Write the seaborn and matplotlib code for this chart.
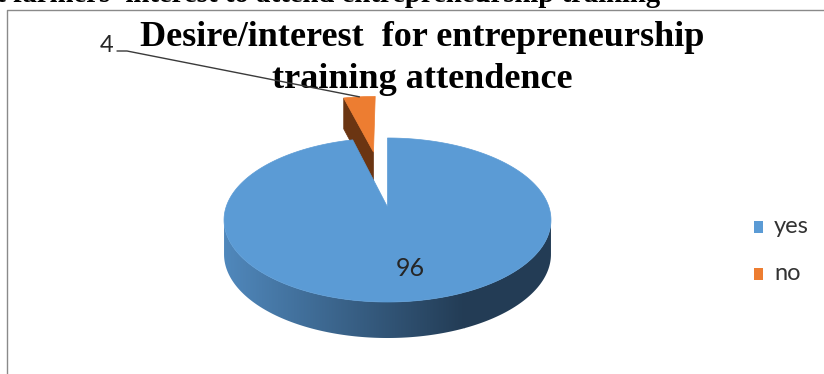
import numpy as np
import matplotlib
matplotlib.use("Agg")
import matplotlib.pyplot as plt
from matplotlib.patches import Polygon, Rectangle
from matplotlib.colors import to_rgb
import seaborn as sns

# ---------------- data ----------------
categories = ["yes", "no"]
values = [96, 4]
explode = [0.0, 0.777]
title_lines = ["Desire/interest  for entrepreneurship", "training attendence"]
caption_tail = "t farmers' interest to attend entrepreneurship training"

# ---------------- style ----------------
sns.set_theme(style="white")
palette = sns.color_palette(["#5b9bd5", "#ed7d31"])
face_dark = ["#1f3a55", "#6b3512"]
plt.rcParams["font.family"] = ["Lato", "DejaVu Sans"]

W, H = 824, 374
fig = plt.figure(figsize=(W / 100, H / 100), dpi=100)
ax = fig.add_axes([0, 0, 1, 1])
ax.set_xlim(0, W)
ax.set_ylim(H, 0)
ax.axis("off")

# chart frame
ax.plot([7.5, 7.5, W + 5], [H + 5, 9.5, 9.5], color="#8a8a8a", lw=1.0,
        solid_capstyle="butt", clip_on=False)

# cut-off caption above the frame (it is cropped in the original too)
ax.text(660, 1.5, caption_tail, family="Liberation Serif", weight="bold",
        fontsize=20.7, ha="right", va="baseline", color="black")

# title
ax.text(422, 46, title_lines[0], family="Liberation Serif", weight="bold",
        fontsize=26, ha="center", va="baseline", color="black")
ax.text(422, 88, title_lines[1], family="Liberation Serif", weight="bold",
        fontsize=26, ha="center", va="baseline", color="black")

# ---------------- 3D pie geometry ----------------
CX, CY = 387.5, 207.0
A, B, P = 161.4, 79.95, 0.1585


def proj(u, v):
    s = 1.0 + P * v
    return CX + A * u / s, CY - B * v / s


def depth(v):
    return 36.0 / (1.0 + 0.06 * (v + 1.0))


side_left = np.array(to_rgb("#5088bc"))
side_right = np.array(to_rgb("#233c55"))
GX0, GX1 = 224.0, 465.0

total = float(sum(values))
slices = []
start = 90.0
for i, v in enumerate(values):
    t1 = start
    t2 = start - v / total * 360.0
    start = t2
    mid = np.radians((t1 + t2) / 2)
    du, dv = explode[i] * np.cos(mid), explode[i] * np.sin(mid)
    slices.append(dict(i=i, t1=t1, t2=t2, du=du, dv=dv, mid=mid))

# back to front
order = sorted(slices, key=lambda s: -(np.sin(s["mid"]) + s["dv"]))

for s in order:
    i = s["i"]
    du, dv = s["du"], s["dv"]
    ts = np.radians(np.linspace(s["t1"], s["t2"], 600))
    us = du + np.cos(ts)
    vs = dv + np.sin(ts)

    # radial faces
    for tb, sign in ((s["t1"], 1), (s["t2"], -1)):
        nrm = np.radians(tb + sign * 90)
        if np.sin(nrm) < -0.01:
            tr = np.radians(tb)
            x0, y0 = proj(du, dv)
            x1, y1 = proj(du + np.cos(tr), dv + np.sin(tr))
            d0, d1 = depth(dv), depth(dv + np.sin(tr))
            ax.add_patch(Polygon([(x0, y0), (x1, y1), (x1, y1 + d1), (x0, y0 + d0)],
                                 closed=True, facecolor=face_dark[i],
                                 edgecolor=face_dark[i], lw=0.5))

    # curved side (front-facing part) with a horizontal gradient
    vis = np.sin(ts) < -P
    if vis.any():
        idx = np.where(vis)[0]
        top = [proj(us[k], vs[k]) for k in idx]
        bot = [(x, y + depth(vs[k])) for (x, y), k in zip(top, idx)]
        side_poly = Polygon(top + bot[::-1], closed=True, facecolor="none",
                            edgecolor="none")
        ax.add_patch(side_poly)
        if i == 0:
            xs = np.linspace(0, 1, 512)
            f = np.clip(xs, 0, 1)[None, :, None]
            grad = side_left[None, None, :] * (1 - f) + side_right[None, None, :] * f
            ymin = min(y for _, y in top) - 2
            ymax = max(y for _, y in bot) + 2
            im = ax.imshow(grad, extent=(GX0, GX1, ymax, ymin), aspect="auto",
                           interpolation="bilinear", zorder=1)
            # extend flat dark colour to the right of the gradient range
            ax.add_patch(Rectangle((GX1 - 0.5, ymin), 600, ymax - ymin,
                                   facecolor=side_right, edgecolor="none",
                                   zorder=1, clip_path=side_poly))
            ax.add_patch(Rectangle((GX0 - 20, ymin), 20.5, ymax - ymin,
                                   facecolor=side_left, edgecolor="none",
                                   zorder=1, clip_path=side_poly))
            im.set_clip_path(side_poly)
        else:
            side_poly.set_facecolor(face_dark[i])

    # top face
    pts = [proj(du, dv)] + [proj(a, b) for a, b in zip(us, vs)]
    ax.add_patch(Polygon(pts, closed=True, facecolor=palette[i],
                         edgecolor=palette[i], lw=0.5, zorder=2))

ax.set_xlim(0, W)
ax.set_ylim(H, 0)

# ---------------- data labels ----------------
s0 = slices[0]
la = s0["mid"] + np.radians(3)
lx, ly = proj(s0["du"] + 0.70 * np.cos(la), s0["dv"] + 0.70 * np.sin(la))
ax.text(lx, ly, f"{values[0]}", fontsize=18, ha="center", va="center",
        color="#262626", zorder=3)

s1 = slices[1]
rx, ry = proj(s1["du"] + np.cos(s1["mid"]), s1["dv"] + np.sin(s1["mid"]))
ax.plot([117, 127, rx], [51, 51, ry], color="#3a3a3a", lw=1.0, zorder=3)
ax.text(113, 52, f"{values[1]}", fontsize=17, ha="right", va="baseline",
        color="#262626")

# ---------------- legend ----------------
leg_y = [233, 280]
for i, cat in enumerate(categories):
    ax.add_patch(Rectangle((754, leg_y[i] - 12), 9.5, 12, facecolor=palette[i],
                           edgecolor="none"))
    ax.text(774, leg_y[i], cat, fontsize=17, ha="left", va="baseline",
            color="#333333")

fig.savefig("out.png", dpi=100)
